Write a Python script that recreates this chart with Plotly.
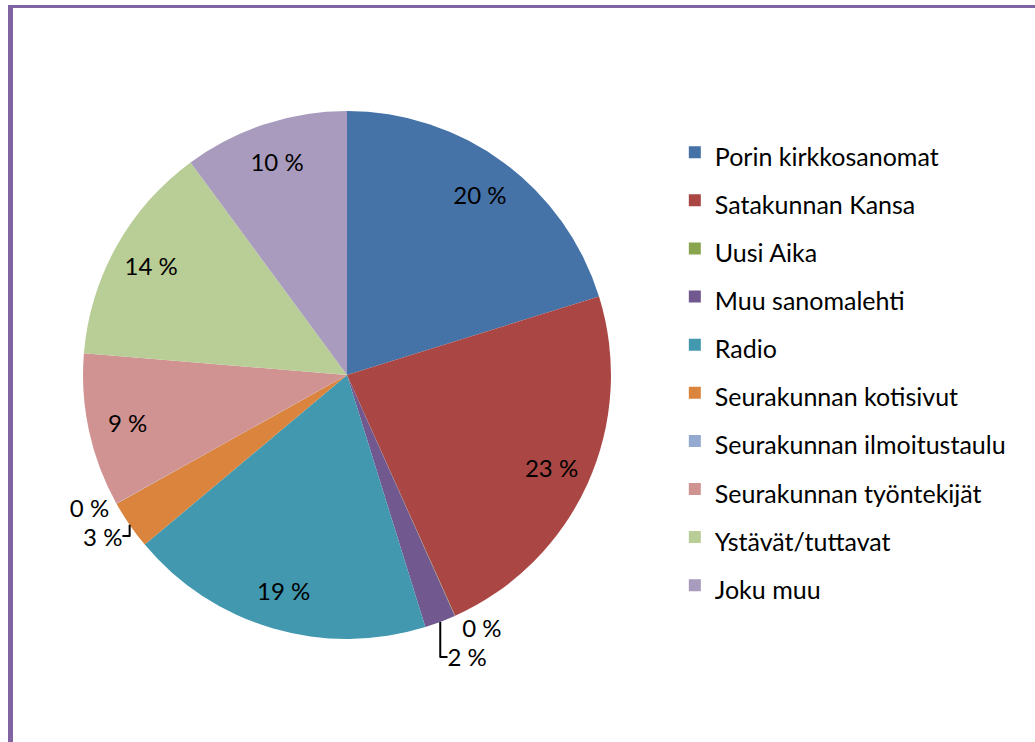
import plotly.graph_objects as go

labels = ["Porin kirkkosanomat", "Satakunnan Kansa", "Uusi Aika", "Muu sanomalehti",
          "Radio", "Seurakunnan kotisivut", "Seurakunnan ilmoitustaulu",
          "Seurakunnan työntekijät", "Ystävät/tuttavat", "Joku muu"]
values = [20.2, 23.1, 0.02, 1.9, 18.7, 3.0, 0.02, 9.4, 13.6, 10.1]
colors = ["#4572A7", "#AA4643", "#89A54E", "#71588F", "#4198AF",
          "#DB843D", "#93A9CF", "#D19392", "#B9CD96", "#A99BBD"]

total = sum(values)
texts = [f"{round(v / total * 100)} %" for v in values]
positions = ["inside" if v / total > 0.05 else "outside" for v in values]

FONT = "Lato"
domain = dict(x=[0.0802, 0.5903], y=[0.1388, 0.8504])

# full pie (slices + legend)
fig = go.Figure(go.Pie(
    labels=[f'<span style="font-size:25px">{l}</span>' for l in labels],
    values=values,
    textinfo="none",
    sort=False,
    direction="clockwise",
    rotation=0,
    marker=dict(colors=colors, line=dict(color="white", width=0)),
    domain=domain,
    automargin=False,
    hoverinfo="label+percent",
))

# ring overlay carrying the percentage labels near the rim
fig.add_trace(go.Pie(
    labels=labels,
    values=values,
    text=texts,
    textinfo="text",
    textposition=positions,
    insidetextorientation="horizontal",
    hole=0.7,
    sort=False,
    direction="clockwise",
    rotation=0,
    marker=dict(colors=["rgba(0,0,0,0)"] * len(values), line=dict(width=0)),
    textfont=dict(family=FONT, size=24, color="black"),
    insidetextfont=dict(family=FONT, size=24, color="black"),
    outsidetextfont=dict(family=FONT, size=24, color="black"),
    domain=domain,
    automargin=False,
    showlegend=False,
    hoverinfo="skip",
))

fig.update_layout(
    width=1035, height=742,
    margin=dict(l=0, r=0, t=0, b=0),
    paper_bgcolor="white",
    font=dict(family=FONT, color="black"),
    legend=dict(x=0.652, y=0.834, xanchor="left", yanchor="top",
                font=dict(family=FONT, size=34.7, color="black"),
                bgcolor="rgba(0,0,0,0)"),
    shapes=[
        dict(type="line", xref="paper", yref="paper", x0=10.5 / 1035, x1=10.5 / 1035,
             y0=0, y1=1 - 5 / 742, line=dict(color="#8064A2", width=5)),
        dict(type="line", xref="paper", yref="paper", x0=8 / 1035, x1=1, y0=1 - 6.5 / 742,
             y1=1 - 6.5 / 742, line=dict(color="#8064A2", width=3)),
    ],
)

fig.write_html("out.html", post_script="document.body.style.margin='0';",
               config={"displayModeBar": False})
